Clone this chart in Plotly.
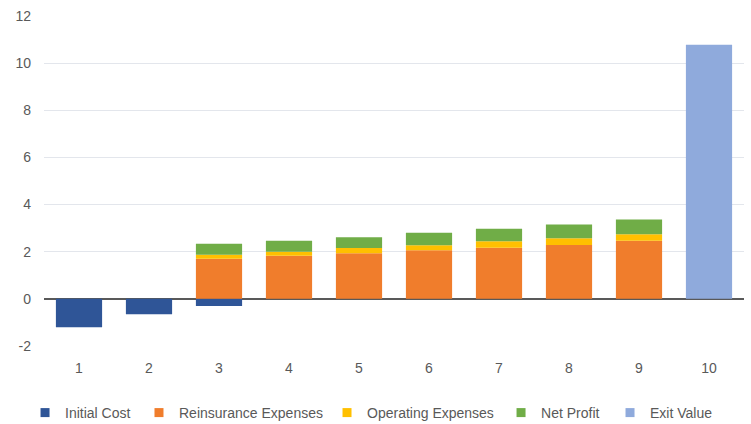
import plotly.graph_objects as go

years = [1, 2, 3, 4, 5, 6, 7, 8, 9, 10]
initial_cost = [-1.2, -0.65, -0.3, 0, 0, 0, 0, 0, 0, 0]
reinsurance = [0, 0, 1.7, 1.83, 1.94, 2.06, 2.17, 2.28, 2.46, 0]
operating = [0, 0, 0.17, 0.17, 0.22, 0.21, 0.27, 0.29, 0.28, 0]
net_profit = [0, 0, 0.47, 0.46, 0.45, 0.53, 0.53, 0.58, 0.63, 0]
exit_value = [0, 0, 0, 0, 0, 0, 0, 0, 0, 10.78]
y_ticks = [-2, 0, 2, 4, 6, 8, 10, 12]

series = [
    ("Initial Cost", initial_cost, "#2F5597"),
    ("Reinsurance Expenses", reinsurance, "#F07D2C"),
    ("Operating Expenses", operating, "#FFC000"),
    ("Net Profit", net_profit, "#70AD47"),
    ("Exit Value", exit_value, "#8FAADC"),
]

legend_ids = ["legend", "legend2", "legend3", "legend4", "legend5"]
legend_x = [-0.0271, 0.1357, 0.4043, 0.6529, 0.8086]

fig = go.Figure()
for name, vals, col in series:
    fig.add_trace(go.Bar(
        x=years, y=vals, name=name, showlegend=False,
        marker=dict(color=col, line=dict(width=0)),
    ))
# legend entries with small square swatches
for (name, vals, col), lid in zip(series, legend_ids):
    fig.add_trace(go.Scatter(
        x=[None], y=[None], name=name, mode="markers",
        marker=dict(symbol="square", size=9, color=col),
        showlegend=True, legend=lid,
    ))

font_family = "Liberation Sans, Arial, sans-serif"
legend_font = dict(family=font_family, size=14, color="#595959")
layout_legends = {}
for lid, lx in zip(legend_ids, legend_x):
    layout_legends[lid] = dict(
        orientation="h", x=lx, xanchor="left", y=-0.203, yanchor="middle",
        font=legend_font, itemwidth=30, bgcolor="rgba(0,0,0,0)",
    )

fig.update_layout(
    width=751, height=424,
    barmode="relative",
    bargap=0.34,
    plot_bgcolor="white",
    paper_bgcolor="white",
    margin=dict(l=44, r=7, t=16, b=78, autoexpand=False),
    font=dict(family=font_family, size=14, color="#595959"),
    showlegend=True,
    xaxis=dict(
        tickmode="array", tickvals=years, ticktext=[str(v) for v in years],
        range=[0.5, 10.5], showgrid=False, zeroline=False, showline=False,
        ticks="", ticklabelstandoff=12,
    ),
    yaxis=dict(
        tickmode="array", tickvals=y_ticks, ticktext=[str(v) for v in y_ticks],
        range=[-2, 12], showgrid=True, gridcolor="#E3E6EC", gridwidth=1,
        zeroline=True, zerolinecolor="#595959", zerolinewidth=1.5,
        showline=False, ticks="", ticklabelstandoff=12,
    ),
    **layout_legends,
)

fig.write_html("out.html")
